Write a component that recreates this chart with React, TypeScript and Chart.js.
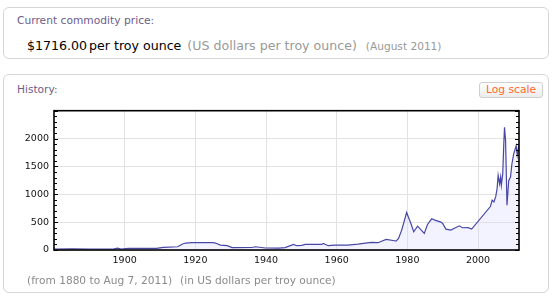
import React, { useEffect, useRef } from "react";
import { Chart, registerables } from "chart.js";

Chart.register(...registerables);

const years: number[] = [
  1880, 1885, 1890, 1897, 1898, 1899, 1901, 1909, 1911, 1915, 1916.4, 1917.3, 1919, 1925, 1925.7,
  1927.1, 1929, 1930.4, 1936, 1937, 1939.8, 1943.6, 1945.4, 1947.8, 1948.7, 1950.1, 1951.1, 1955.8,
  1956.2, 1957.6, 1959.5, 1963.2, 1966, 1969.8, 1971.7, 1974, 1976.4, 1976.8, 1977.5, 1978.4, 1979.8,
  1981, 1981.8, 1982.9, 1984.8, 1985.7, 1986.9, 1987.8, 1989.5, 1990, 1990.9, 1992.3, 1994.7, 1995.6,
  1997.2, 1998.2, 2003.5, 2004, 2004.5, 2005, 2005.4, 2005.7, 2006.1, 2006.4, 2006.6, 2007, 2007.3,
  2007.5, 2007.8, 2008.2, 2008.7, 2009.2, 2009.6, 2010.1, 2010.4, 2010.8, 2011.1, 2011.6,
];

const prices: number[] = [
  18, 20, 18, 20, 35, 18, 30, 30, 48, 58, 107, 125, 131, 131, 125,
  89, 77, 42, 45, 58, 36, 35, 42, 101, 77, 83, 101, 101,
  119, 77, 89, 89, 107, 137, 131, 190, 166, 160, 208, 357, 673,
  476, 327, 429, 298, 458, 560, 536, 500, 476, 375, 357, 434, 399,
  400, 375, 780, 893, 863, 952, 1101, 1339, 1190, 1309, 1160, 1369, 1905,
  2202, 1964, 804, 1250, 1309, 1548, 1726, 1786, 1875, 1700, 1900,
];

const xTickValues: number[] = [1900, 1920, 1940, 1960, 1980, 2000];
const yTickValues: number[] = [0, 500, 1000, 1500, 2000];

const FONT = '"DejaVu Sans", Verdana, sans-serif';

const framePlugin = {
  id: "frameTicks",
  afterDatasetsDraw(chart: any) {
    const { ctx, chartArea, scales } = chart;
    const ys = scales.y;
    ctx.save();
    ctx.strokeStyle = "#000";
    ctx.lineWidth = 1;
    for (let v = 0; v <= 2500; v += 100) {
      const py = Math.round(ys.getPixelForValue(v)) + 0.5;
      const len = v % 500 === 0 ? 4 : 3;
      ctx.beginPath();
      ctx.moveTo(chartArea.left, py);
      ctx.lineTo(chartArea.left + len, py);
      ctx.moveTo(chartArea.right, py);
      ctx.lineTo(chartArea.right - len, py);
      ctx.stroke();
    }
    ctx.lineWidth = 1.6;
    ctx.strokeRect(chartArea.left, chartArea.top, chartArea.right - chartArea.left, chartArea.bottom - chartArea.top);
    ctx.restore();
  },
};

function GoldChart() {
  const ref = useRef<HTMLCanvasElement | null>(null);
  useEffect(() => {
    if (!ref.current) return;
    const chart = new Chart(ref.current, {
      type: "line",
      data: {
        datasets: [
          {
            data: years.map((y, i) => ({ x: y, y: prices[i] })),
            borderColor: "#4747a6",
            borderWidth: 1.2,
            backgroundColor: "rgba(215,215,255,0.3)",
            fill: "origin",
            pointRadius: 0,
            tension: 0,
          },
        ],
      },
      options: {
        animation: false,
        responsive: false,
        maintainAspectRatio: false,
        layout: { padding: { top: 10, right: 35, left: 0, bottom: 0 } },
        plugins: { legend: { display: false }, tooltip: { enabled: false } },
        scales: {
          x: {
            type: "linear",
            min: 1880,
            max: 2011.6,
            afterBuildTicks: (s: any) => {
              s.ticks = xTickValues.map((v) => ({ value: v }));
            },
            afterFit: (s: any) => {
              s.height = 25;
            },
            ticks: {
              font: { family: FONT, size: 9.5 },
              color: "#111",
              padding: 5,
              maxRotation: 0,
              autoSkip: false,
              callback: (v: any) => String(v),
            },
            grid: { color: "#e2e2e2", lineWidth: 1, drawTicks: false },
            border: { display: false },
          },
          y: {
            min: 0,
            max: 2500,
            afterBuildTicks: (s: any) => {
              s.ticks = yTickValues.map((v) => ({ value: v }));
            },
            afterFit: (s: any) => {
              s.width = 54;
            },
            ticks: {
              font: { family: FONT, size: 9.5 },
              color: "#111",
              padding: 5,
              autoSkip: false,
              callback: (v: any) => String(v),
            },
            grid: { color: "#e2e2e2", lineWidth: 1, drawTicks: false },
            border: { display: false },
          },
        },
      },
      plugins: [framePlugin],
    });
    return () => chart.destroy();
  }, []);
  return (
    <canvas
      ref={ref}
      width={554}
      height={175}
      style={{ position: "absolute", left: 0, top: 100, width: 554, height: 175 }}
    />
  );
}

export default function App() {
  const box: React.CSSProperties = {
    position: "absolute",
    left: 3,
    width: 546,
    border: "1px solid #d6d6d6",
    borderRadius: 6,
    background: "#fff",
    boxSizing: "border-box",
  };
  const titleColor = "#6c5e8c";
  return (
    <div
      style={{
        position: "fixed",
        left: 0,
        top: 0,
        width: 554,
        height: 299,
        background: "#fff",
        fontFamily: FONT,
        overflow: "hidden",
      }}
    >
      <div style={{ ...box, top: 7, height: 52 }} />
      <div
        style={{
          position: "absolute",
          left: 17,
          top: 14,
          fontSize: 10.7,
          color: titleColor,
          whiteSpace: "nowrap",
          lineHeight: "14px",
        }}
      >
        Current commodity price:
      </div>
      <div
        style={{
          position: "absolute",
          left: 27,
          top: 37,
          whiteSpace: "nowrap",
          lineHeight: "17px",
          display: "flex",
          alignItems: "baseline",
        }}
      >
        <span style={{ fontSize: 12.6, color: "#000" }}>$1716.00</span>
        <span style={{ fontSize: 12.6, color: "#000", marginLeft: 2 }}>per troy ounce</span>
        <span style={{ fontSize: 12.6, color: "#999", marginLeft: 6 }}>(US dollars per troy ounce)</span>
        <span style={{ fontSize: 10.6, color: "#999", marginLeft: 9 }}>(August 2011)</span>
      </div>

      <div style={{ ...box, top: 74, height: 219 }} />
      <div
        style={{
          position: "absolute",
          left: 17,
          top: 82,
          fontSize: 10.6,
          color: titleColor,
          whiteSpace: "nowrap",
          lineHeight: "14px",
        }}
      >
        History:
      </div>
      <div
        style={{
          position: "absolute",
          left: 479,
          top: 82,
          width: 64,
          height: 16,
          boxSizing: "border-box",
          border: "1px solid #cfcfcf",
          borderRadius: 3,
          background: "linear-gradient(#ffffff, #ececec)",
          color: "#ff6a2a",
          fontSize: 10.7,
          lineHeight: "14px",
          textAlign: "center",
          whiteSpace: "nowrap",
        }}
      >
        Log scale
      </div>
      <GoldChart />
      <div
        style={{
          position: "absolute",
          left: 27,
          top: 273,
          fontSize: 10.6,
          color: "#8a8a8a",
          whiteSpace: "nowrap",
          lineHeight: "14px",
        }}
      >
        <span>(from 1880 to Aug 7, 2011)</span>
        <span style={{ marginLeft: 8 }}>(in US dollars per troy ounce)</span>
      </div>
    </div>
  );
}
